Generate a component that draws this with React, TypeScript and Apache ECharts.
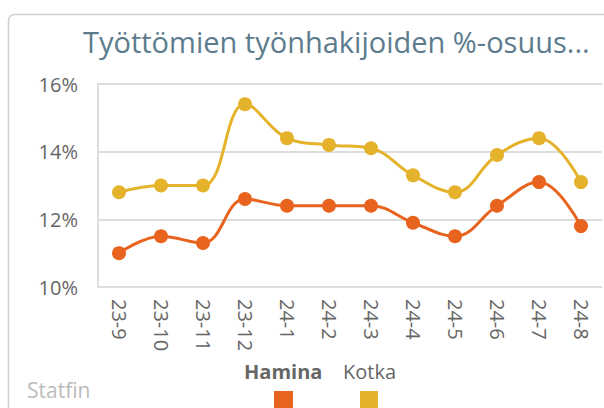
import React, { useEffect, useRef } from "react";
import * as echarts from "echarts";

const categories = ["23-9", "23-10", "23-11", "23-12", "24-1", "24-2", "24-3", "24-4", "24-5", "24-6", "24-7", "24-8"];
const hamina = [11.0, 11.5, 11.3, 12.6, 12.4, 12.4, 12.4, 11.9, 11.5, 12.4, 13.1, 11.8];
const kotka = [12.8, 13.0, 13.0, 15.4, 14.4, 14.2, 14.1, 13.3, 12.8, 13.9, 14.4, 13.1];
const seriesNames = ["Hamina", "Kotka"];
const colors = ["#E8641E", "#E4B22B"];
const titleText = "Työttömien työnhakijoiden %-osuus...";
const sourceText = "Statfin";

const FONT = "'Open Sans', 'Noto Sans', sans-serif";

export default function App() {
  const ref = useRef<HTMLDivElement>(null);
  useEffect(() => {
    document.body.style.margin = "0";
    const chart = echarts.init(ref.current!, null, { renderer: "svg" });
    chart.setOption({
      animation: false,
      backgroundColor: "#ffffff",
      textStyle: { fontFamily: FONT },
      grid: { left: 98, right: 2, top: 84, height: 203 },
      xAxis: {
        type: "category",
        data: categories,
        boundaryGap: true,
        axisLine: { show: false },
        axisTick: { show: false },
        axisLabel: {
          rotate: -90,
          color: "#666666",
          fontSize: 20,
          fontFamily: FONT,
          margin: 12,
          interval: 0,
        },
      },
      yAxis: {
        type: "value",
        min: 10,
        max: 16,
        interval: 2,
        axisLine: { show: true, lineStyle: { color: "#dddddd", width: 2 } },
        axisTick: { show: false },
        splitLine: { lineStyle: { color: "#dddddd", width: 2 } },
        axisLabel: {
          color: "#666666",
          fontSize: 20,
          fontFamily: FONT,
          margin: 20,
          formatter: (v: number) => `${v}%`,
        },
      },
      series: [
        {
          name: seriesNames[0],
          type: "line",
          data: hamina,
          smooth: 0.4,
          symbol: "circle",
          symbolSize: 14,
          itemStyle: { color: colors[0] },
          lineStyle: { color: colors[0], width: 3 },
        },
        {
          name: seriesNames[1],
          type: "line",
          data: kotka,
          smooth: 0.4,
          symbol: "circle",
          symbolSize: 14,
          itemStyle: { color: colors[1] },
          lineStyle: { color: colors[1], width: 3 },
        },
      ],
      graphic: [
        {
          type: "rect",
          z: -10,
          shape: { x: 8.5, y: 14.5, width: 640, height: 440, r: 6 },
          style: { fill: "#ffffff", stroke: "#d0d0d0", lineWidth: 1.5 },
          silent: true,
        },
        {
          type: "text",
          x: 83,
          y: 41,
          style: {
            text: titleText,
            fill: "#5C7C8E",
            fontSize: 29,
            fontFamily: FONT,
            verticalAlign: "middle",
          },
        },
        {
          type: "text",
          x: 27,
          y: 390,
          style: {
            text: sourceText,
            fill: "#bbbbbb",
            fontSize: 21,
            fontFamily: FONT,
            verticalAlign: "middle",
          },
        },
        {
          type: "text",
          x: 244,
          y: 371,
          style: {
            text: seriesNames[0],
            fill: "#666666",
            fontSize: 20,
            fontWeight: "bold",
            fontFamily: FONT,
            verticalAlign: "middle",
          },
        },
        {
          type: "text",
          x: 343,
          y: 371,
          style: {
            text: seriesNames[1],
            fill: "#666666",
            fontSize: 20,
            fontFamily: FONT,
            verticalAlign: "middle",
          },
        },
        {
          type: "rect",
          shape: { x: 274, y: 391, width: 19, height: 19 },
          style: { fill: colors[0] },
        },
        {
          type: "rect",
          shape: { x: 360, y: 391, width: 18, height: 19 },
          style: { fill: colors[1] },
        },
      ],
    });
    return () => chart.dispose();
  }, []);
  return (
    <div
      ref={ref}
      style={{ position: "fixed", left: 0, top: 0, width: 604, height: 408 }}
    />
  );
}
